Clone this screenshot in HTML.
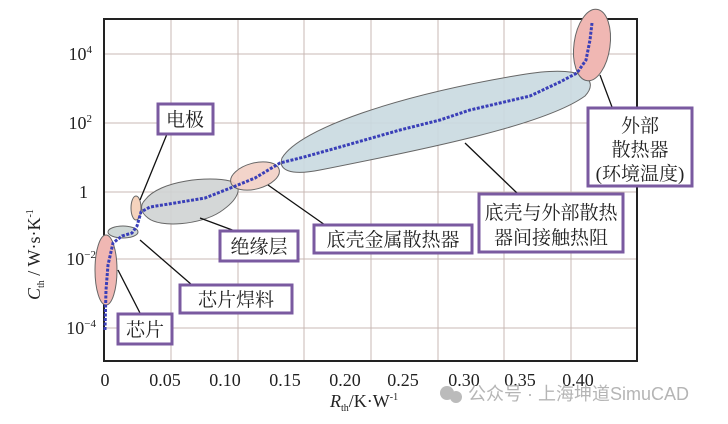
<!DOCTYPE html>
<html><head><meta charset="utf-8"><style>
body{margin:0;background:#fff;}
svg{display:block;font-family:"Liberation Serif","Noto Serif CJK SC",serif;}
.cn{font-family:"Liberation Serif","Noto Serif CJK SC",serif;font-size:19px;fill:#222;}
</style></head><body>
<svg width="728" height="424" viewBox="0 0 728 424">
<rect width="728" height="424" fill="#fff"/>
<g stroke="#c9b9b4" stroke-width="1">
<line x1="171" y1="19" x2="171" y2="361"/><line x1="238" y1="19" x2="238" y2="361"/>
<line x1="304" y1="19" x2="304" y2="361"/><line x1="371" y1="19" x2="371" y2="361"/>
<line x1="438" y1="19" x2="438" y2="361"/><line x1="504" y1="19" x2="504" y2="361"/>
<line x1="571" y1="19" x2="571" y2="361"/>
<line x1="104" y1="54" x2="637" y2="54"/><line x1="104" y1="123" x2="637" y2="123"/>
<line x1="104" y1="192" x2="637" y2="192"/><line x1="104" y1="259" x2="637" y2="259"/>
<line x1="104" y1="328" x2="637" y2="328"/>
</g>
<rect x="104" y="19" width="533" height="342" fill="none" stroke="#222" stroke-width="2"/>
<g stroke="#666" stroke-width="1">
<path d="M282,158 C300,128 400,95 520,75 C585,64 600,80 585,96 C545,125 430,148 320,170 C290,176 278,170 282,158Z" fill="#c9d9e0" fill-opacity="0.9"/>
<path d="M145,200 C160,180 210,176 230,181 C245,186 238,200 220,212 C200,225 160,228 148,218 C140,212 140,205 145,200Z" fill="#cfd3d3" fill-opacity="0.9"/>
<ellipse cx="255" cy="176" rx="25" ry="13" transform="rotate(-15 255 176)" fill="#f2cfc4" fill-opacity="0.9"/>
<ellipse cx="106" cy="270" rx="11" ry="35" fill="#f0b7b3"/>
<ellipse cx="123" cy="232" rx="15" ry="6" fill="#cfd8d6"/>
<ellipse cx="136" cy="208" rx="5" ry="12" fill="#f5d3bd"/>
<ellipse cx="592" cy="45" rx="18" ry="36" transform="rotate(8 592 45)" fill="#f0b7b3"/>
</g>
<path d="M105,330 L106,290 L108,265 L113,243 L122,236 L132,233 L137,226 L141,212 L150,207 L175,203 L205,198 L233,187 L255,178 L280,163 L304,157 L340,147 L400,130 L440,120 L470,110 L500,103 L530,96 L560,82 L577,73 L586,60 L590,40 L592,23" fill="none" stroke="#3a3fb8" stroke-width="3" stroke-dasharray="3 1.5"/>
<g stroke="#111" stroke-width="1.3">
<line x1="167" y1="134" x2="140" y2="200"/><line x1="235" y1="231" x2="200" y2="218"/>
<line x1="192" y1="285" x2="140" y2="240"/><line x1="140" y1="313" x2="118" y2="270"/>
<line x1="325" y1="225" x2="268" y2="185"/><line x1="517" y1="193" x2="465" y2="143"/>
<line x1="612" y1="107" x2="600" y2="75"/>
</g>
<g fill="#fff" stroke="#7a5aa0" stroke-width="3">
<rect x="158" y="104" width="55" height="30"/><rect x="220" y="231" width="78" height="30"/>
<rect x="180" y="285" width="112" height="28"/><rect x="118" y="314" width="54" height="30"/>
<rect x="314" y="225" width="158" height="28"/><rect x="479" y="194" width="144" height="58"/>
<rect x="588" y="108" width="104" height="78"/>
</g>
<g class="cn" text-anchor="middle">
<text x="185" y="126">电极</text><text x="259" y="253">绝缘层</text>
<text x="236" y="306">芯片焊料</text><text x="145" y="336">芯片</text>
<text x="393" y="246">底壳金属散热器</text>
<text x="551" y="219">底壳与外部散热</text><text x="551" y="244">器间接触热阻</text>
<text x="640" y="132">外部</text><text x="640" y="156">散热器</text><text x="640" y="180">(环境温度)</text>
</g>
<g font-size="18" fill="#222" text-anchor="end">
<text x="92" y="60">10<tspan dy="-7" font-size="11">4</tspan></text>
<text x="92" y="129">10<tspan dy="-7" font-size="11">2</tspan></text>
<text x="88" y="198">1</text>
<text x="96" y="265">10<tspan dy="-7" font-size="11">−2</tspan></text>
<text x="96" y="334">10<tspan dy="-7" font-size="11">−4</tspan></text>
</g>
<g font-size="18" fill="#222" text-anchor="middle">
<text x="105" y="386">0</text><text x="165" y="386">0.05</text><text x="225" y="386">0.10</text>
<text x="285" y="386">0.15</text><text x="345" y="386">0.20</text><text x="403" y="386">0.25</text>
<text x="464" y="386">0.30</text><text x="520" y="386">0.35</text><text x="578" y="386">0.40</text>
</g>
<text x="330" y="407" font-size="18" fill="#222"><tspan font-style="italic">R</tspan><tspan font-size="10" dy="4">th</tspan><tspan dy="-4">/K·W</tspan><tspan font-size="10" dy="-7">-1</tspan></text>
<text transform="translate(40,300) rotate(-90)" font-size="18" fill="#222"><tspan font-style="italic">C</tspan><tspan font-size="10" dy="4">th</tspan><tspan dy="-4"> / W·s·K</tspan><tspan font-size="10" dy="-7">-1</tspan></text>
<circle cx="447" cy="393" r="7" fill="#bbb"/><circle cx="456" cy="397" r="6" fill="#bbb"/>
<text x="468" y="400" font-family="Liberation Sans,Noto Sans CJK SC,sans-serif" font-size="18" fill="#b5b5b5">公众号 · 上海坤道SimuCAD</text>
</svg>
</body></html>
